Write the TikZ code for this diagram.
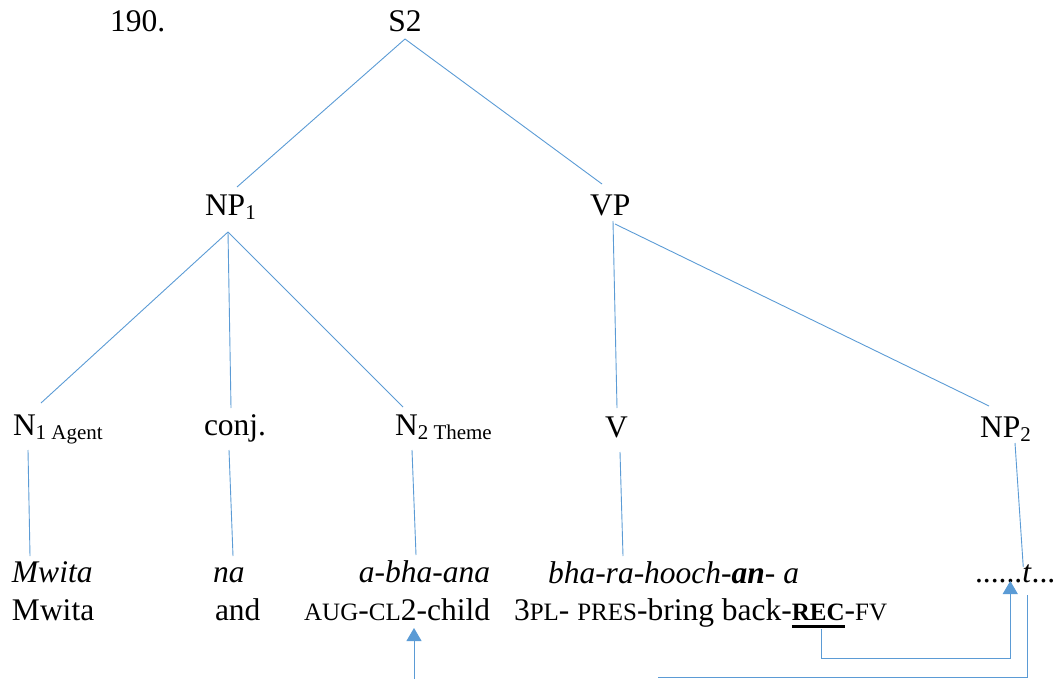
\documentclass[tikz,border=0pt]{standalone}
\usepackage{fontspec}
\setmainfont{LiberationSerif}[
  Extension=.ttf,
  UprightFont=*-Regular,
  BoldFont=*-Bold,
  ItalicFont=*-Italic,
  BoldItalicFont=*-BoldItalic]
\usetikzlibrary{calc,arrows.meta}
\definecolor{linkblue}{RGB}{91,155,213}
% small capitals imitated by reduced capitals
\newcommand\glsc[1]{{\fontsize{25}{30}\selectfont #1}}
% lowered, smaller subscript label
\newcommand\lowsub[1]{\raisebox{-4pt}{\fontsize{21}{25}\selectfont #1}}
\tikzset{
  lbl/.style={inner sep=0pt, outer sep=0pt, font=\rmfamily\fontsize{31.5}{38}\selectfont},
  branch/.style={draw=linkblue, line width=0.9pt},
  pointer/.style={branch, -{Triangle[width=15pt,length=13pt]}},
}
\begin{document}
\begin{tikzpicture}[x=1pt, y=-1pt]
\useasboundingbox (0,0) rectangle (1059,679);

% tree labels
\node[lbl, anchor=base west] (num) at (110,32) {190.};
\node[lbl, anchor=base] (S) at (405,32) {S2};
\node[lbl, anchor=base west] (NPa) at (205,215) {NP\lowsub{1}};
\node[lbl, anchor=base west] (VP) at (590,215) {VP};
\node[lbl, anchor=base west] (Na) at (13,435) {N\lowsub{1 Agent}};
\node[lbl, anchor=base west] (conj) at (204,435) {conj.};
\node[lbl, anchor=base west] (Nb) at (395,435) {N\lowsub{2 Theme}};
\node[lbl, anchor=base west] (V) at (605,437) {V};
\node[lbl, anchor=base west] (NPb) at (980,437) {NP\lowsub{2}};

% object-language line
\node[lbl, anchor=base west] (wa) at (12,582) {\textit{Mwita}};
\node[lbl, anchor=base west] (wb) at (213,582) {\textit{na}};
\node[lbl, anchor=base east] (wc) at (490,582) {\textit{a-bha-ana}};
\node[lbl, anchor=base west] (wd) at (548,583) {\textit{bha-ra-hooch-\textbf{an}- a}};
\node[lbl, anchor=base west] (tdots) at (975,582) {......};
\node[lbl, anchor=base west] (tt) at (tdots.base east) {\textit{t}};
\node[lbl, anchor=base west] (tend) at (tt.base east) {...};

% gloss line
\node[lbl, anchor=base west] (ga) at (12,620) {Mwita};
\node[lbl, anchor=base west] (gb) at (215,620) {and};
\node[lbl, anchor=base east] (gc) at (490,620) {\glsc{AUG}-\glsc{CL}2-child};
\node[lbl, anchor=base west] (gd) at (514,620) {3\glsc{PL}- \glsc{PRES}-bring back-};
\node[lbl, anchor=base west] (rec) at (gd.base east) {\textbf{\glsc{REC}}};
\node[lbl, anchor=base west] (fv) at (rec.base east) {-\glsc{FV}};
\draw[line width=2.5pt] ($(rec.base west)+(0,6.5)$) -- ($(rec.base east)+(0,6.5)$);

% branches
\draw[branch] ($(S.base)+(0,7)$) -- ($(NPa.base west)+(32,-28)$);
\draw[branch] ($(S.base)+(0,7)$) -- ($(VP.base west)+(12,-31)$);
\draw[branch] ($(NPa.base west)+(23,17)$) -- ($(Na.base west)+(28,-32)$);
\draw[branch] ($(NPa.base west)+(23,17)$) -- ($(conj.base west)+(27,-27)$);
\draw[branch] ($(NPa.base west)+(23,17)$) -- ($(Nb.base west)+(8,-28)$);
\draw[branch] ($(VP.base west)+(23,6)$) -- ($(V.base west)+(12,-29)$);
\draw[branch] ($(VP.base west)+(25,9)$) -- ($(NPb.base west)+(9,-31)$);

% terminal links
\draw[branch] ($(Na.base west)+(15,15)$) -- ($(wa.base west)+(18,-26)$);
\draw[branch] ($(conj.base west)+(25,15)$) -- ($(wb.base west)+(20,-26)$);
\draw[branch] ($(Nb.base west)+(17,15)$) -- ($(wc.base east)+(-74,-27)$);
\draw[branch] ($(V.base west)+(15,15)$) -- ($(wd.base west)+(75,-27)$);
\draw[branch] ($(NPb.base west)+(35,6)$) -- ($(tt.base west)+(1,-15)$);

% pointers
\coordinate (foot) at (414,679);
\draw[pointer] (foot) -- ($(gc.base east)+(-76,8)$);
\draw[pointer] ($(rec.base west)+(30,9)$) |- ($(tt.base west)+(-12,76)$) -- ($(tt.base west)+(-12,-1)$);
\coordinate (tail) at (658,677);
\draw[branch] (tail) -| ($(tt.base west)+(5,13)$);
\end{tikzpicture}
\end{document}
